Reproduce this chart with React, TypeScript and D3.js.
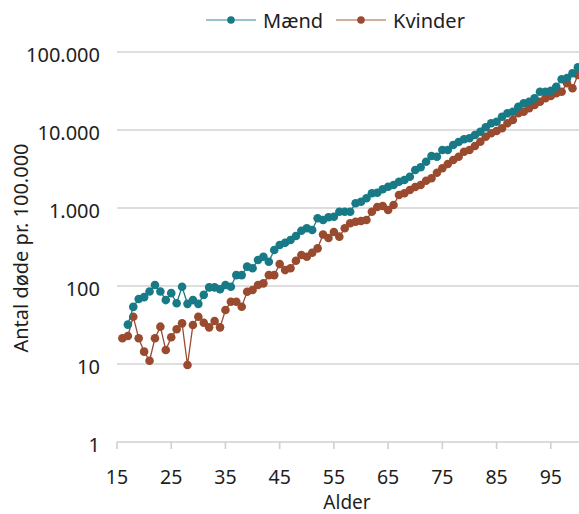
import React from "react";
import * as d3 from "d3";

const menAges: number[] = d3.range(17, 101);
const menValues: number[] = [
  32, 54, 68, 72, 85, 103, 85, 66, 81, 60, 98, 59, 66, 59, 77, 96, 96, 91, 103, 98,
  138, 138, 177, 169, 215, 237, 205, 289, 335, 359, 389, 438, 512, 549, 522, 738, 702, 760, 774, 897,
  897, 897, 1149, 1204, 1332, 1543, 1571, 1737, 1876, 1972, 2174, 2286, 2520, 3070, 3325, 3923, 4642, 4547, 5541, 5541,
  6421, 7017, 7600, 7828, 8629, 9511, 10830, 12183, 12775, 14808, 16374, 17165, 19894, 21996, 23063, 25500, 30974, 30974, 31900, 35900,
  44670, 46420, 53330, 63640,
];

const womenAges: number[] = d3.range(16, 101);
const womenValues: number[] = [
  21.4, 22.9, 40.4, 21.4, 14.4, 11.0, 21.4, 30.1, 15.1, 22.0, 27.9, 33.2, 9.7, 31.6, 40.4, 33.8, 29.5, 35.6, 29.5, 49.2,
  62.9, 62.9, 54.3, 84.5, 88.8, 103, 108, 138, 138, 191, 160, 169, 211, 250, 237, 267, 304, 457, 413, 492,
  429, 549, 637, 667, 681, 702, 897, 1030, 1061, 943, 1093, 1468, 1543, 1701, 1858, 1972, 2239, 2403, 2836, 3228,
  3665, 4125, 4547, 5270, 5541, 6234, 7080, 8206, 9072, 9710, 10515, 12183, 13434, 16374, 17165, 18975, 20921, 23063, 25500, 27283,
  29544, 30974, 39692, 34240, 50720,
];

const xTicks: number[] = [15, 25, 35, 45, 55, 65, 75, 85, 95];
const yTicks: number[] = [1, 10, 100, 1000, 10000, 100000];
const yTickLabels: string[] = ["1", "10", "100", "1.000", "10.000", "100.000"];
const seriesNames: string[] = ["Mænd", "Kvinder"];

const W = 579;
const H = 514;
const FONT = "'Noto Sans', 'Open Sans', sans-serif";
const TEAL = "#177a86";
const BROWN = "#9a4a2e";

export default function App() {
  const x = d3.scaleLinear().domain([15, 100.2]).range([117, 579]);
  const y = d3.scaleLog().domain([1, 100000]).range([442, 52]);

  const men = menAges.map((a, i) => [a, menValues[i]] as [number, number]);
  const women = womenAges.map((a, i) => [a, womenValues[i]] as [number, number]);
  const line = d3
    .line<[number, number]>()
    .x((d) => x(d[0]))
    .y((d) => y(d[1]));

  const series = [
    { name: seriesNames[0], data: men, color: TEAL },
    { name: seriesNames[1], data: women, color: BROWN },
  ];

  return (
    <svg
      width={W}
      height={H}
      style={{ position: "absolute", left: 0, top: 0, background: "#fff" }}
      fontFamily={FONT}
    >
      {/* gridlines */}
      {yTicks.slice(1).map((t) => (
        <line key={t} x1={117} x2={579} y1={y(t)} y2={y(t)} stroke="#d3d3d3" strokeWidth={1.6} />
      ))}
      {/* x axis */}
      <line x1={117} x2={579} y1={y(1)} y2={y(1)} stroke="#cfcfcf" strokeWidth={1.6} />
      {xTicks.map((t) => (
        <g key={t}>
          <line x1={x(t)} x2={x(t)} y1={y(1)} y2={y(1) + 7} stroke="#cfcfcf" strokeWidth={1.6} />
          <text x={x(t)} y={484} textAnchor="middle" fontSize={19.5} fill="#1e1e1e">
            {t}
          </text>
        </g>
      ))}
      {/* y labels */}
      {yTicks.map((t, i) => (
        <text key={t} x={100} y={y(t) + 10} textAnchor="end" fontSize={20} fill="#1e1e1e">
          {yTickLabels[i]}
        </text>
      ))}
      {/* axis titles */}
      <text x={347} y={509} textAnchor="middle" fontSize={19} fill="#1e1e1e">
        Alder
      </text>
      <text
        transform={`translate(28,248) rotate(-90)`}
        textAnchor="middle"
        fontSize={20}
        fill="#1e1e1e"
      >
        Antal døde pr. 100.000
      </text>
      {/* series: women below men */}
      {[series[1], series[0]].map((s) => (
        <g key={s.name}>
          <path d={line(s.data) || ""} fill="none" stroke={s.color} strokeWidth={1.3} />
          {s.data.map((d, i) => (
            <circle key={i} cx={x(d[0])} cy={y(d[1])} r={4.3} fill={s.color} />
          ))}
        </g>
      ))}
      {/* legend */}
      {series.map((s, i) => {
        const lx = i === 0 ? 206 : 336;
        return (
          <g key={s.name}>
            <line x1={lx} x2={lx + 50} y1={20} y2={20} stroke={s.color} strokeOpacity={0.6} strokeWidth={1.6} />
            <circle cx={lx + 25} cy={20} r={3.8} fill={s.color} />
            <text x={lx + 57} y={28} fontSize={20} fill="#1e1e1e">
              {s.name}
            </text>
          </g>
        );
      })}
    </svg>
  );
}
